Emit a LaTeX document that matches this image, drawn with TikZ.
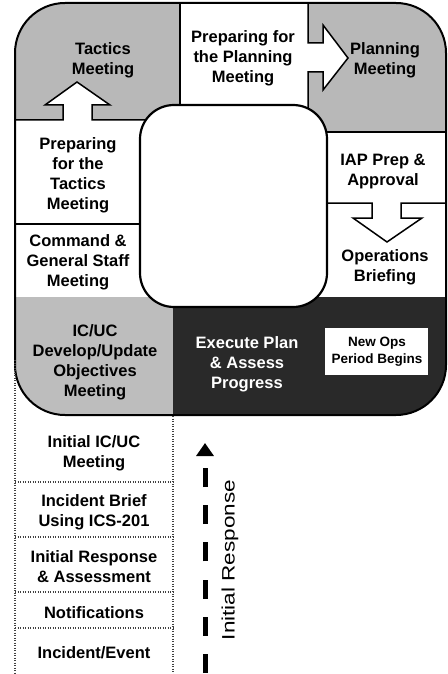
\documentclass[tikz,border=0pt]{standalone}
\usepackage{fontspec}
\setmainfont{Liberation Sans}
\usetikzlibrary{arrows.meta}
\definecolor{gtop}{gray}{0.72}
\definecolor{gic}{gray}{0.74}
\definecolor{darkreg}{gray}{0.16}
\begin{document}
\begin{tikzpicture}[x=1pt,y=-1pt,
  lbl/.style={font=\fontsize{16.5}{20}\selectfont\bfseries, align=center, inner sep=0pt, text=black},
  wlbl/.style={lbl, text=white},
  smlbl/.style={font=\fontsize{13.5}{17}\selectfont\bfseries, align=center, inner sep=0pt},
  edge/.style={line width=1.5pt, line join=miter},
  dotline/.style={line width=1.1pt, black!75, dash pattern=on 1.2pt off 1.3pt},
  rsparrow/.style={line width=5pt, dash pattern=on 19pt off 18.2pt, -{Triangle[length=13pt,width=17pt]}}
]
\useasboundingbox (0,0) rectangle (447,674);
% region fills
\begin{scope}
  \clip[rounded corners=50pt] (15,3) rectangle (446,415);
  \fill[white] (15,3) rectangle (446,415);
  \fill[gtop] (15,3) rectangle (180,120);
  \fill[gtop] (308,3) rectangle (446,132);
  \fill[gic] (15,297) rectangle (173,415);
  \fill[darkreg] (173,297) rectangle (446,415);
\end{scope}
% block arrows
\fill[white] (308,43) -- (323,43) -- (323,25) -- (348,58) -- (323,90) -- (323,72) -- (308,72) -- cycle;
\fill[white] (63,121) -- (63,105) -- (45,105) -- (77,82) -- (110,105) -- (92,105) -- (92,121) -- cycle;
% dividing lines
\draw[edge] (180,3) -- (180,112);
\draw[edge] (308,3) -- (308,43) -- (323,43) -- (323,25) -- (348,58) -- (323,90) -- (323,72) -- (308,72) -- (308,112);
\draw[edge] (15,120) -- (63,120) -- (63,105) -- (45,105) -- (77,82) -- (110,105) -- (92,105) -- (92,120) -- (150,120);
\draw[edge] (15,224) -- (150,224);
\draw[edge] (315,132) -- (446,132);
\draw[edge] (315,203) -- (372,203) -- (372,218) -- (353,218) -- (387,242) -- (422,218) -- (401,218) -- (401,203) -- (446,203);
% inner rounded box
\filldraw[fill=white, line width=2.2pt, rounded corners=34pt] (140,105) rectangle (327,307);
% outer border
\draw[line width=2pt, rounded corners=50pt] (15,3) rectangle (446,415);
% new ops box
\fill[white] (325,328) rectangle (428,375);
% labels
\node[lbl] (tac) at (103,60) {Tactics\\Meeting};
\node[lbl] (ppm) at (243,58) {Preparing for\\the Planning\\Meeting};
\node[lbl] (pm) at (385,60) {Planning\\Meeting};
\node[lbl] (ptm) at (78,175) {Preparing\\for the\\Tactics\\Meeting};
\node[lbl] (iap) at (383,172) {IAP Prep \&\\Approval};
\node[lbl] (ob) at (385,267) {Operations\\Briefing};
\node[lbl] (cgs) at (78,262) {Command \&\\General Staff\\Meeting};
\node[lbl] (obj) at (95,362) {IC/UC\\Develop/Update\\Objectives\\Meeting};
\node[wlbl] (exe) at (247,364) {Execute Plan\\\& Assess\\Progress};
\node[smlbl] (nop) at (377,352) {New Ops\\Period Begins};
% initial response list
\draw[dotline] (15,360) -- (15,674);
\draw[dotline] (173,416) -- (173,674);
\foreach \yy in {482,537,592,628} \draw[dotline] (15,\yy) -- (173,\yy);
\node[lbl] (iic) at (94,453) {Initial IC/UC\\Meeting};
\node[lbl] (ib) at (94,512) {Incident Brief\\Using ICS-201};
\node[lbl] (ira) at (94,567) {Initial Response\\\& Assessment};
\node[lbl] (not) at (94,613) {Notifications};
\node[lbl] (ie) at (94,653) {Incident/Event};
% dashed arrow and label
\coordinate (rs) at (205,673);
\coordinate (re) at (205,443);
\draw[rsparrow] (rs) -- (re);
\node[rotate=90, inner sep=0pt] (irl) at (230,560) {\scalebox{1.25}[1]{\fontsize{18}{18}\selectfont Initial Response}};
\end{tikzpicture}
\end{document}
